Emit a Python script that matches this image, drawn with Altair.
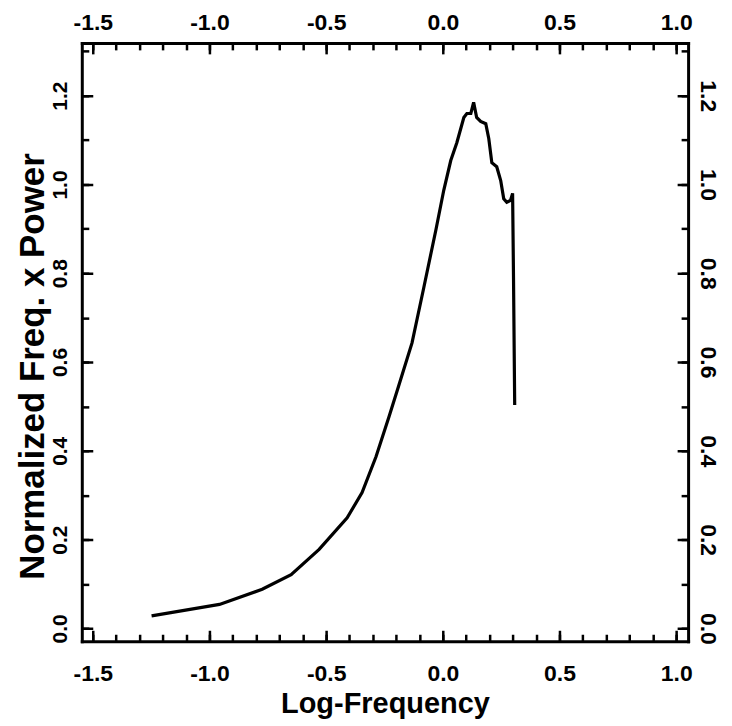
import altair as alt
import pandas as pd

# Curve values
log_freq = [-1.248, -0.957, -0.774, -0.650, -0.530, -0.410, -0.346, -0.286, -0.231,
            -0.190, -0.132, -0.081, -0.030, 0.004, 0.034, 0.060, 0.090, 0.103, 0.120,
            0.132, 0.145, 0.162, 0.184, 0.197, 0.210, 0.231, 0.248, 0.261, 0.274,
            0.290, 0.299, 0.303, 0.308]
norm_power = [0.028, 0.054, 0.088, 0.121, 0.178, 0.249, 0.306, 0.387, 0.476,
              0.545, 0.643, 0.769, 0.897, 0.987, 1.054, 1.094, 1.151, 1.160, 1.160,
              1.185, 1.151, 1.142, 1.137, 1.103, 1.049, 1.040, 1.009, 0.968, 0.960,
              0.964, 0.980, 0.784, 0.503]

x_major = [-1.5, -1.0, -0.5, 0.0, 0.5, 1.0]
x_minor = [round(-1.5 + 0.1 * i, 1) for i in range(26)]
y_major = [0.0, 0.2, 0.4, 0.6, 0.8, 1.0, 1.2]
y_minor = [round(0.1 * i, 1) for i in range(14)]

x_domain = [-1.547, 1.051]
y_domain = [-0.029, 1.319]

df = pd.DataFrame({"logf": log_freq, "power": norm_power})

FONT = "Liberation Sans"
LBL = "(datum.value < 0 ? '-' : '') + format(abs(datum.value), '.1f')"

xs = alt.Scale(domain=x_domain, nice=False, zero=False)
ys = alt.Scale(domain=y_domain, nice=False, zero=False)


def label_axis(orient, values, angle, padding, size, **kw):
    return alt.Axis(orient=orient, values=values, labelExpr=LBL, labelAngle=angle,
                    labelAlign="center", labelBaseline="alphabetic", labelPadding=padding,
                    ticks=False, tickSize=0, domain=True, domainWidth=3, domainColor="black",
                    domainCap="square", grid=False, labelFont=FONT, labelFontSize=size,
                    labelFontWeight="bold", labelColor="black", labelOverlap=False,
                    labelFlush=False, labelBound=False, **kw)


def tick_axis(orient, values, size):
    return alt.Axis(orient=orient, values=values, labels=False, domain=False, grid=False,
                    ticks=True, tickSize=size, tickWidth=2.5, tickColor="black",
                    offset=-size, title="")


base = alt.Chart(df)

line = base.mark_line(color="black", strokeWidth=3.2).encode(
    x=alt.X("logf:Q", scale=xs,
            axis=label_axis("bottom", x_major, 0, 39, 23, title="Log-Frequency",
                            titleFont=FONT, titleFontSize=29, titleFontWeight="bold",
                            titleColor="black", titleY=71, titleBaseline="alphabetic")),
    y=alt.Y("power:Q", scale=ys,
            axis=label_axis("left", y_major, 270, 15, 21, title="Normalized Freq. x Power",
                            titleFont=FONT, titleFontSize=35, titleFontWeight="bold",
                            titleColor="black", titleAngle=270, titleX=-38, titleY=324,
                            titleAlign="center", titleBaseline="alphabetic")),
    order="logf:Q",
)

top_right = base.mark_line(strokeOpacity=0).encode(
    x=alt.X("logf:Q", scale=xs, axis=label_axis("top", x_major, 0, 13, 23, title="")),
    y=alt.Y("power:Q", scale=ys, axis=label_axis("right", y_major, 90, 12, 23, title="")),
)

layers = [line, top_right]
for xo, yo in [("bottom", "left"), ("top", "right")]:
    layers.append(base.mark_line(strokeOpacity=0).encode(
        x=alt.X("logf:Q", scale=xs, axis=tick_axis(xo, x_minor, 7)),
        y=alt.Y("power:Q", scale=ys, axis=tick_axis(yo, y_minor, 7)),
    ))
    layers.append(base.mark_line(strokeOpacity=0).encode(
        x=alt.X("logf:Q", scale=xs, axis=tick_axis(xo, x_major, 11)),
        y=alt.Y("power:Q", scale=ys, axis=tick_axis(yo, y_major, 11)),
    ))

chart = alt.layer(*layers).resolve_axis(x="independent", y="independent").properties(
    width=608, height=600,
    autosize=alt.AutoSizeParams(type="none"),
    padding={"left": 74, "top": 34, "right": 36, "bottom": 80},
    background="white",
).configure_view(strokeWidth=0).configure_axis(
    labelFont=FONT, labelFontSize=23, labelFontWeight="bold", labelColor="black"
)

chart.save("out.html", embed_options={"renderer": "svg", "actions": False})
